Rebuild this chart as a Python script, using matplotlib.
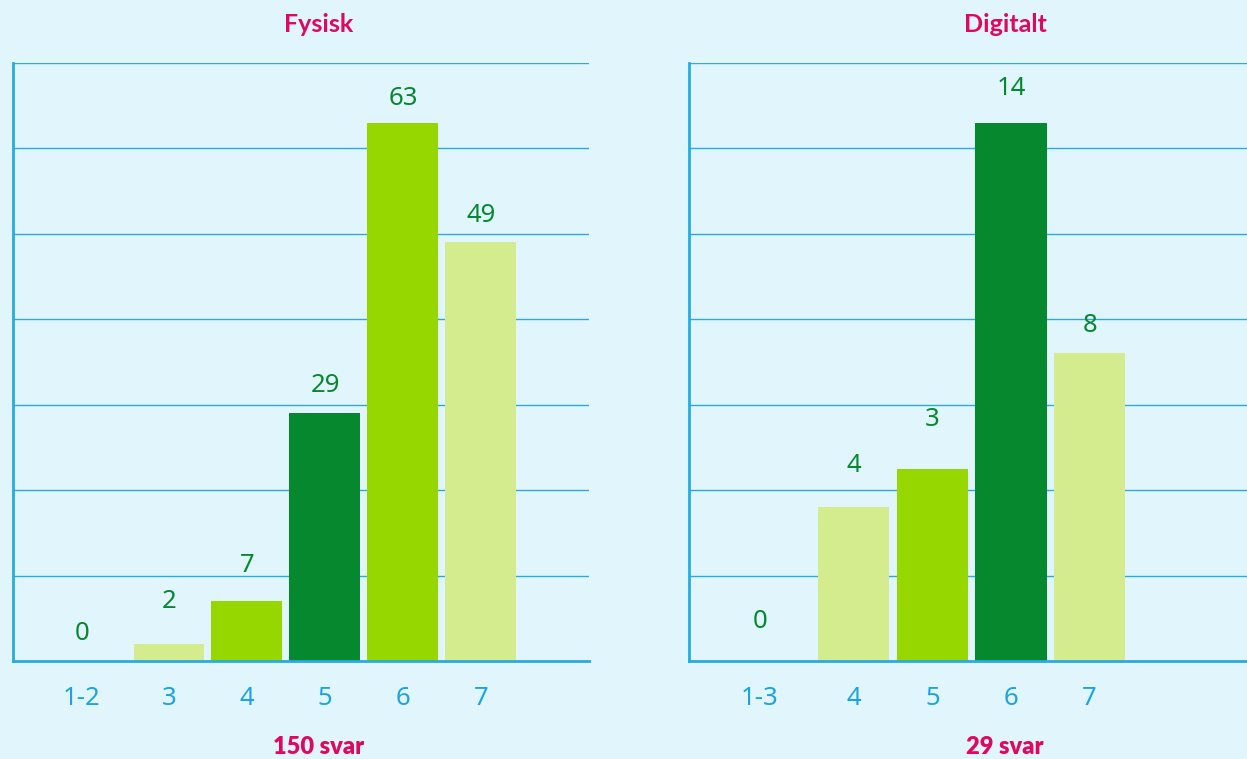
import numpy as np
import matplotlib.pyplot as plt

# Fysisk
fys_cats = ["1-2", "3", "4", "5", "6", "7"]
fys_vals = [0, 2, 7, 29, 63, 49]
fys_labels = ["0", "2", "7", "29", "63", "49"]
fys_total = "150 svar"

# Digitalt
dig_cats = ["1-3", "4", "5", "6", "7"]
dig_vals = [0, 4, 5, 14, 8]
dig_labels = ["0", "4", "3", "14", "8"]
dig_total = "29 svar"

BG = "#e1f5fd"
GRID = "#2aaae2"
DARK = "#06882f"
LIME = "#97d700"
PALE = "#d4ec8e"
PINK = "#e0085e"
TICK = "#1ca3e2"

fys_colors = [PALE, PALE, LIME, DARK, LIME, PALE]
dig_colors = [PALE, PALE, LIME, DARK, PALE]
# pixel gap between bar top and label centre
fys_gap = [28, 42, 36, 28, 24, 27]
dig_gap = [39, 42, 49, 34, 28]

plt.rcParams['font.family'] = ['Noto Sans', 'DejaVu Sans']
BOLD = ['Lato', 'Open Sans', 'DejaVu Sans']

W, H = 1247, 759
fig = plt.figure(figsize=(W / 100, H / 100), dpi=100)
fig.patch.set_facecolor(BG)


def panel(rect, cats, vals, labels, colors, gaps, first_shift, xlim):
    ax = fig.add_axes(rect)
    ax.set_facecolor(BG)
    pos = np.arange(len(cats), dtype=float)
    pos[0] += first_shift
    ymax = max(vals) * 10 / 9
    for y in np.linspace(0, ymax, 8)[1:]:
        ax.axhline(y, color=GRID, lw=1.0, zorder=1)
    ax.bar(pos, vals, width=0.91, color=colors, zorder=2)
    for x, v, lab, g in zip(pos, vals, labels, gaps):
        ax.annotate(lab, (x, v), xytext=(0, g), textcoords="offset pixels",
                    ha="center", va="center", fontsize=18.5, color=DARK)
    ax.set_xlim(*xlim)
    ax.set_ylim(0, ymax)
    ax.set_xticks(pos)
    ax.set_xticklabels(cats)
    ax.tick_params(axis="x", length=0, pad=18, labelsize=18.5, labelcolor=TICK)
    ax.set_yticks([])
    for s in ["top", "right"]:
        ax.spines[s].set_visible(False)
    for s in ["left", "bottom"]:
        ax.spines[s].set_color(GRID)
        ax.spines[s].set_linewidth(2)
    return ax


bottom = (H - 661) / H
height = 598 / H
panel([13 / W, bottom, 576 / W, height], fys_cats, fys_vals, fys_labels,
      fys_colors, fys_gap, -0.115, (-1.0, 6.385))
panel([689 / W, bottom, 1 - 689 / W, height], dig_cats, dig_vals, dig_labels,
      dig_colors, dig_gap, -0.19, (-1.093, 6.0))

for x, t in [(319, "Fysisk"), (1005, "Digitalt")]:
    fig.text(x / W, 1 - 25 / H, t, ha="center", va="center", family=BOLD,
             fontsize=18, fontweight="bold", color=PINK)
for x, t in [(319, fys_total), (1005, dig_total)]:
    fig.text(x / W, 1 - 747 / H, t, ha="center", va="center", family=BOLD,
             fontsize=17, fontweight="heavy", color=PINK)

fig.savefig("out.png", dpi=100, facecolor=BG)
